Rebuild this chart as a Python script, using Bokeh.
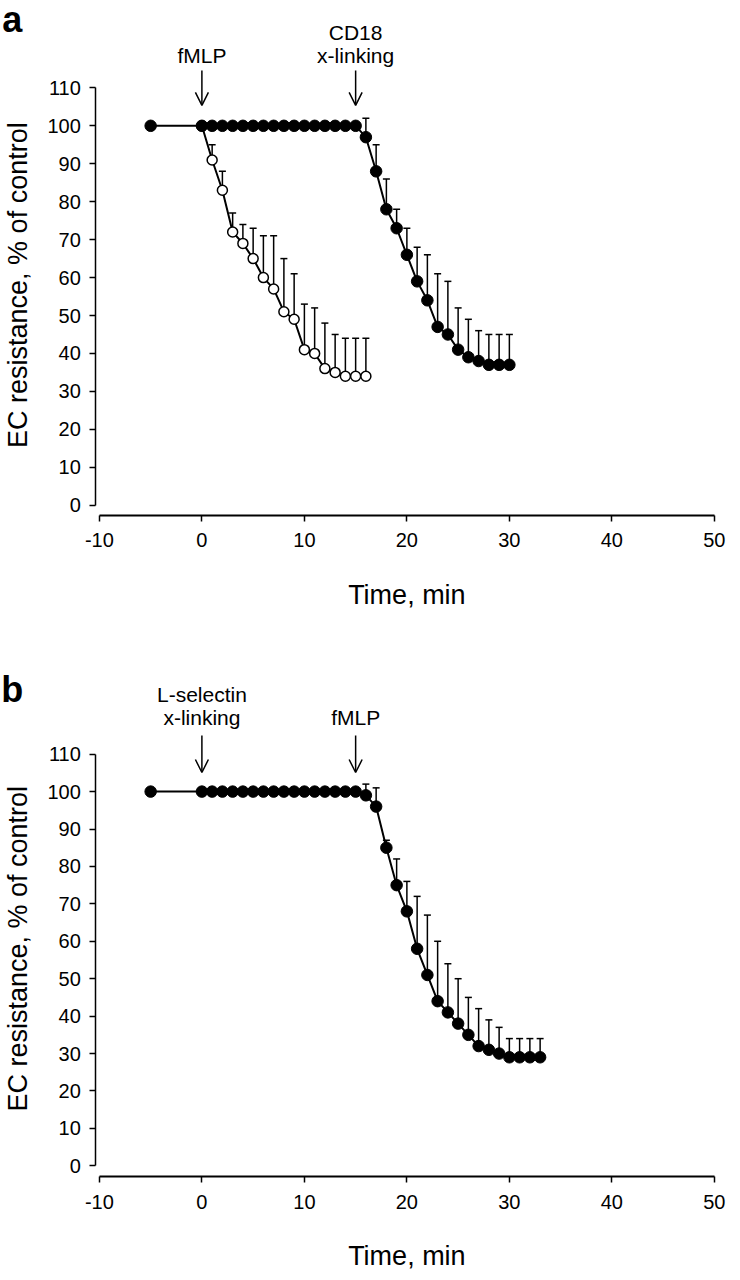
import math
from bokeh.plotting import figure
from bokeh.models import Range1d, Label, Arrow, OpenHead, Whisker, TeeHead, ColumnDataSource, FixedTicker
from bokeh.layouts import column
from bokeh.embed import file_html
from bokeh.resources import INLINE

# ---------------- data ----------------
# Panel a
a_t_filled = [-5, 0, 1, 2, 3, 4, 5, 6, 7, 8, 9, 10, 11, 12, 13, 14, 15,
              16, 17, 18, 19, 20, 21, 22, 23, 24, 25, 26, 27, 28, 29, 30]
a_filled = [100, 100, 100, 100, 100, 100, 100, 100, 100, 100, 100, 100, 100, 100, 100, 100, 100,
            97, 88, 78, 73, 66, 59, 54, 47, 45, 41, 39, 38, 37, 37, 37]
a_t_filled_err = [16, 17, 18, 19, 20, 21, 22, 23, 24, 25, 26, 27, 28, 29, 30]
a_filled_err_mean = [97, 88, 78, 73, 66, 59, 54, 47, 45, 41, 39, 38, 37, 37, 37]
a_filled_err_upper = [102, 95, 86, 78, 73, 68, 66, 61, 59, 52, 49, 46, 45, 45, 45]

a_t_open = [0, 1, 2, 3, 4, 5, 6, 7, 8, 9, 10, 11, 12, 13, 14, 15, 16]
a_open = [100, 91, 83, 72, 69, 65, 60, 57, 51, 49, 41, 40, 36, 35, 34, 34, 34]
a_t_open_err = [1, 2, 3, 4, 5, 6, 7, 8, 9, 10, 11, 12, 13, 14, 15, 16]
a_open_err_mean = [91, 83, 72, 69, 65, 60, 57, 51, 49, 41, 40, 36, 35, 34, 34, 34]
a_open_err_upper = [95, 88, 77, 74, 73, 71, 71, 65, 61, 53, 52, 48, 45, 44, 44, 44]

# Panel b
b_t = [-5, 0, 1, 2, 3, 4, 5, 6, 7, 8, 9, 10, 11, 12, 13, 14, 15,
       16, 17, 18, 19, 20, 21, 22, 23, 24, 25, 26, 27, 28, 29, 30, 31, 32, 33]
b_val = [100, 100, 100, 100, 100, 100, 100, 100, 100, 100, 100, 100, 100, 100, 100, 100, 100,
         99, 96, 85, 75, 68, 58, 51, 44, 41, 38, 35, 32, 31, 30, 29, 29, 29, 29]
b_t_err = [16, 17, 18, 19, 20, 21, 22, 23, 24, 25, 26, 27, 28, 29, 30, 31, 32, 33]
b_err_mean = [99, 96, 85, 75, 68, 58, 51, 44, 41, 38, 35, 32, 31, 30, 29, 29, 29, 29]
b_err_upper = [102, 101, 87, 82, 76, 72, 67, 60, 54, 50, 45, 42, 39, 37, 34, 34, 34, 34]

x_ticks = [-10, 0, 10, 20, 30, 40, 50]
y_ticks = [0, 10, 20, 30, 40, 50, 60, 70, 80, 90, 100, 110]
x_title = "Time, min"
y_title = "EC resistance, % of control"

FONT = "Liberation Sans"
X_START, X_END = -19.65, 51.77
Y_AXIS_AT = -10.35


def base_fig(height, y_range, x_axis_at):
    p = figure(width=732, height=height, output_backend="svg", toolbar_location=None,
               x_range=Range1d(X_START, X_END), y_range=y_range,
               min_border_left=0, min_border_right=0, min_border_top=0,
               min_border_bottom=0)
    p.outline_line_color = None
    p.grid.visible = False
    p.background_fill_color = "white"
    p.border_fill_color = "white"
    for ax in (p.xaxis[0], p.yaxis[0]):
        ax.axis_line_color = "black"
        ax.major_tick_line_color = "black"
        ax.major_tick_line_width = 1.5
        ax.minor_tick_line_color = None
        ax.major_tick_in = 0
        ax.major_tick_out = 6
        ax.major_label_text_font = FONT
        ax.major_label_text_font_size = "20px"
        ax.major_label_text_color = "black"
    p.xaxis.axis_line_width = 2
    p.yaxis.axis_line_width = 1.5
    p.xaxis.bounds = (-10, 50)
    p.yaxis.bounds = (0, 110)
    p.xaxis.ticker = FixedTicker(ticks=x_ticks)
    p.yaxis.ticker = FixedTicker(ticks=y_ticks)
    p.xaxis.major_label_overrides = {-10: "-10"}
    p.xaxis.fixed_location = x_axis_at
    p.yaxis.fixed_location = Y_AXIS_AT
    p.xaxis.major_label_standoff = 12
    p.yaxis.major_label_standoff = 9
    return p


def add_err(p, t, mean, upper):
    src = ColumnDataSource(dict(t=t, lo=mean, hi=upper))
    w = Whisker(base="t", lower="lo", upper="hi", source=src, dimension="height",
                line_color="black", line_width=1.5,
                upper_head=TeeHead(size=7, line_color="black", line_width=1.5),
                lower_head=None)
    p.add_layout(w)


def add_text(p, x, y, txt, size="21px", bold=False, angle=0.0, baseline="middle"):
    p.add_layout(Label(x=x, y=y, text=txt, text_align="center", text_baseline=baseline,
                       text_font=FONT, text_font_size=size, text_color="black", angle=angle,
                       text_font_style="bold" if bold else "normal"))


def add_arrow(p, x, y0, y1):
    p.add_layout(Arrow(end=OpenHead(size=13, line_color="black", line_width=1.5),
                       x_start=x, y_start=y0, x_end=x, y_end=y1,
                       line_color="black", line_width=1.5))


# ---------------- panel a ----------------
pa = base_fig(630, Range1d(-33.03, 133.03), -2.71)
add_err(pa, a_t_open_err, a_open_err_mean, a_open_err_upper)
add_err(pa, a_t_filled_err, a_filled_err_mean, a_filled_err_upper)
pa.line(a_t_open, a_open, line_color="black", line_width=2)
pa.line(a_t_filled, a_filled, line_color="black", line_width=2)
pa.scatter(a_t_open, a_open, size=10, fill_color="white", line_color="black", line_width=1.5)
pa.scatter(a_t_filled, a_filled, size=11.5, fill_color="black", line_color="black")
add_text(pa, 0, 118.5, "fMLP")
add_text(pa, 15, 124.6, "CD18")
add_text(pa, 15, 118.5, "x-linking")
add_arrow(pa, 0, 114.6, 105.4)
add_arrow(pa, 15, 114.6, 105.4)
add_text(pa, -18.5, 128.0, "a", size="36px", bold=True, baseline="alphabetic")
add_text(pa, -17.9, 58.0, y_title, size="27px", angle=math.pi / 2)
add_text(pa, 20, -23.8, x_title, size="27px")

# ---------------- panel b ----------------
pb = base_fig(642, Range1d(-28.51, 143.05), -2.86)
add_err(pb, b_t_err, b_err_mean, b_err_upper)
pb.line(b_t, b_val, line_color="black", line_width=2)
pb.scatter(b_t, b_val, size=11.5, fill_color="black", line_color="black")
add_text(pb, 0, 125.9, "L-selectin")
add_text(pb, 0, 119.8, "x-linking")
add_text(pb, 15, 119.8, "fMLP")
add_arrow(pb, 0, 115.0, 105.1)
add_arrow(pb, 15, 115.0, 105.1)
add_text(pb, -18.5, 127.4, "b", size="36px", bold=True, baseline="alphabetic")
add_text(pb, -17.9, 58.0, y_title, size="27px", angle=math.pi / 2)
add_text(pb, 20, -24.0, x_title, size="27px")

layout = column(pa, pb, spacing=0)
open("out.html", "w").write(file_html(layout, INLINE))
